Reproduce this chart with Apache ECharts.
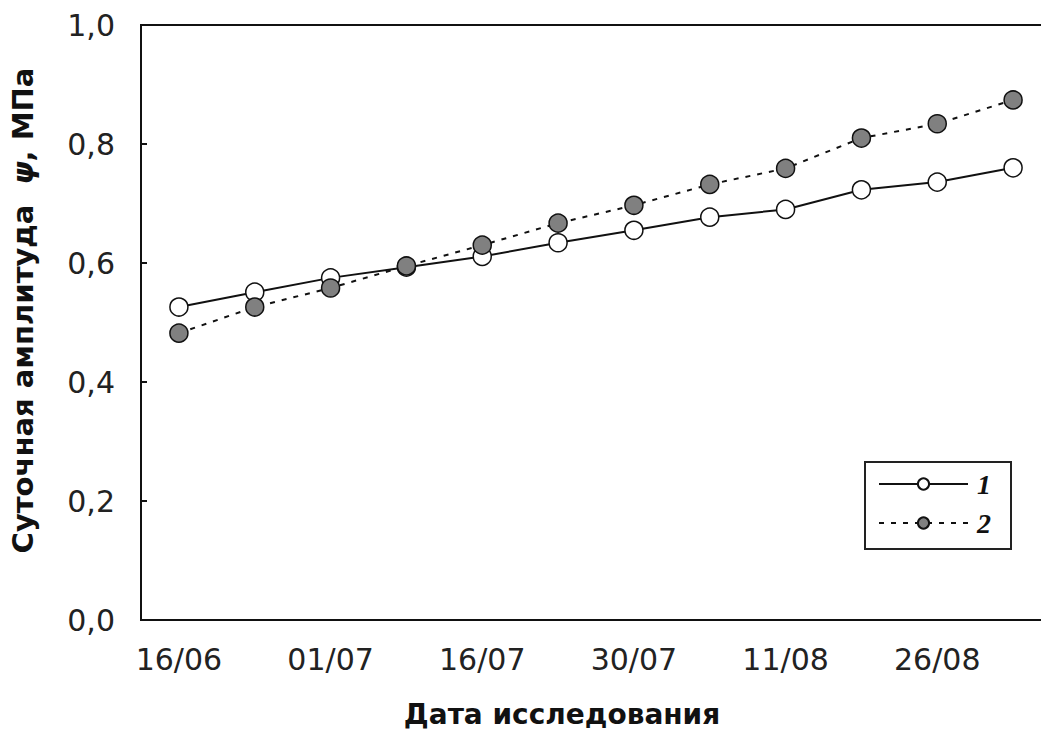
<!DOCTYPE html>
<html>
<head>
<meta charset="utf-8">
<script src="https://cdn.jsdelivr.net/npm/echarts@6/dist/echarts.min.js"></script>
<style>
html,body{margin:0;padding:0;background:#fff;}
#chart{width:1041px;height:731px;}
</style>
</head>
<body>
<div id="chart"></div>
<script>
// Categories (study dates); labels shown on every other category
var dates = ['16/06','23/06','01/07','08/07','16/07','23/07','30/07','05/08','11/08','19/08','26/08','02/09'];
var series1Name = '1';
var series2Name = '2';
var series1 = [0.526, 0.551, 0.575, 0.593, 0.611, 0.634, 0.655, 0.677, 0.690, 0.723, 0.736, 0.760];
var series2 = [0.482, 0.526, 0.558, 0.595, 0.630, 0.667, 0.697, 0.732, 0.759, 0.810, 0.834, 0.874];
var xTitle = 'Дата исследования';
var yTitleA = 'Суточная амплитуда  ';
var yTitleB = 'ψ';
var yTitleC = ', МПа';

var chart = echarts.init(document.getElementById('chart'), null, {renderer: 'svg'});
var font = 'DejaVu Sans';
chart.setOption({
  animation: false,
  backgroundColor: '#fff',
  grid: {
    left: 141, top: 25, width: 910, height: 595,
    containLabel: false, outerBoundsMode: 'none',
    show: true, borderColor: '#111', borderWidth: 2, backgroundColor: 'transparent'
  },
  legend: {
    orient: 'vertical',
    left: 865, top: 462,
    data: [series1Name, series2Name],
    itemWidth: 89, itemHeight: 14, itemGap: 11,
    padding: [8, 20, 12, 13],
    borderColor: '#222', borderWidth: 2,
    textStyle: {fontFamily: 'Liberation Serif', fontStyle: 'italic', fontWeight: 'bold', fontSize: 28, color: '#111', padding: [0,0,0,4]}
  },
  xAxis: {
    type: 'category',
    data: dates,
    boundaryGap: true,
    axisLine: {lineStyle: {color: '#111', width: 2}},
    axisTick: {inside: true, length: 6, interval: 0, lineStyle: {color: '#111', width: 2}},
    axisLabel: {interval: 1, margin: 24, fontFamily: font, fontSize: 30, color: '#222'},
    name: xTitle,
    nameLocation: 'middle',
    nameGap: 80,
    nameTextStyle: {fontFamily: font, fontWeight: 'bold', fontSize: 28, color: '#111', padding: [0, 68, 0, 0]}
  },
  yAxis: {
    type: 'value',
    min: 0, max: 1, interval: 0.2,
    splitLine: {show: false},
    axisLine: {show: true, lineStyle: {color: '#111', width: 2}},
    axisTick: {show: true, inside: true, length: 6, lineStyle: {color: '#111', width: 2}},
    axisLabel: {margin: 26, fontFamily: font, fontSize: 30, color: '#222',
      formatter: function (v) { return v.toFixed(1).replace('.', ','); }},
    name: '{a|' + yTitleA + '}{b|' + yTitleB + '}{a|' + yTitleC + '}',
    nameLocation: 'middle',
    nameGap: 104,
    nameTextStyle: {
      fontFamily: font, fontWeight: 'bold', fontSize: 29, color: '#111', padding: [0, 0, 0, 24],
      rich: {
        a: {fontFamily: font, fontWeight: 'bold', fontSize: 29, color: '#111'},
        b: {fontFamily: font, fontWeight: 'bold', fontStyle: 'italic', fontSize: 29, color: '#111'}
      }
    }
  },
  series: [
    {
      name: series1Name, type: 'line', data: series1,
      symbol: 'circle', symbolSize: 18,
      lineStyle: {color: '#111', width: 2, type: 'solid'},
      itemStyle: {color: '#fff', borderColor: '#111', borderWidth: 1.5},
      z: 2
    },
    {
      name: series2Name, type: 'line', data: series2,
      symbol: 'circle', symbolSize: 18,
      lineStyle: {color: '#111', width: 2, type: [5, 7]},
      itemStyle: {color: '#808080', borderColor: '#111', borderWidth: 1.5},
      z: 3
    }
  ]
});
</script>
</body>
</html>
